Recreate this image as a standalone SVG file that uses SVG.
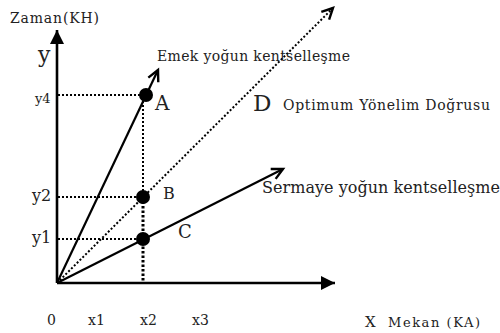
<svg xmlns="http://www.w3.org/2000/svg" width="500" height="333" viewBox="0 0 500 333">
<style>
text{font-family:"DejaVu Serif","Liberation Serif",serif;fill:#222}
.solid{stroke:#000;stroke-width:2.2;fill:none}
.axis{stroke:#000;stroke-width:2.6;fill:none}
.dot{stroke:#000;stroke-width:2;stroke-dasharray:2 2;fill:none}
.dotb{stroke:#000;stroke-width:3;stroke-dasharray:2.5 2;fill:none}
.pt{fill:#000}
</style>
<defs>
<marker id="open" markerWidth="16" markerHeight="16" refX="12" refY="6" orient="auto" markerUnits="userSpaceOnUse" viewBox="0 0 16 12">
<path d="M1,0.5 L12,6 L1,11.5" fill="none" stroke="#000" stroke-width="2.4"/>
</marker>
<marker id="tri" markerWidth="15" markerHeight="15" refX="14" refY="7" orient="auto" markerUnits="userSpaceOnUse" viewBox="0 0 15 14">
<path d="M0,0 L14,7 L0,14 Z" fill="#000"/>
</marker>
</defs>
<g id="connectors">
<line class="axis" x1="57" y1="283" x2="57" y2="30" marker-end="url(#tri)"/>
<line class="axis" x1="57" y1="283" x2="335" y2="283" marker-end="url(#tri)"/>
<line class="solid" x1="57" y1="283" x2="158" y2="70" marker-end="url(#open)"/>
<line class="solid" x1="57" y1="283" x2="283" y2="169" marker-end="url(#open)"/>
<line class="dot" x1="57" y1="283" x2="333" y2="8" marker-end="url(#open)"/>
<line class="dot" x1="58" y1="95" x2="143" y2="95"/>
<line class="dot" x1="58" y1="197" x2="143" y2="197"/>
<line class="dot" x1="58" y1="239" x2="143" y2="239"/>
<line class="dot" x1="143" y1="97" x2="143" y2="197"/>
<line class="dotb" x1="143" y1="197" x2="143" y2="283"/>
</g>
<g id="axis-labels">
<text x="10" y="23" font-size="14" textLength="89">Zaman(KH)</text>
<text x="38" y="62" font-size="22">y</text>
<text x="35" y="103" font-size="13">y4</text>
<text x="32" y="201" font-size="16">y2</text>
<text x="32" y="243" font-size="16">y1</text>
<text x="47" y="325" font-size="14">0</text>
<text x="88" y="325" font-size="14">x1</text>
<text x="140" y="325" font-size="14">x2</text>
<text x="192" y="325" font-size="14">x3</text>
<text x="365" y="327" font-size="15">X</text>
<text x="388" y="327" font-size="13" textLength="92">Mekan (KA)</text>
</g>
<g id="node-A">
<circle class="pt" cx="146" cy="95" r="7"/>
<text x="155" y="110" font-size="20">A</text>
<text x="157" y="61" font-size="14" textLength="193">Emek yoğun kentselleşme</text>
</g>
<g id="node-B">
<circle class="pt" cx="143" cy="197" r="7"/>
<text x="163" y="199" font-size="16">B</text>
</g>
<g id="node-C">
<circle class="pt" cx="143" cy="239" r="7"/>
<text x="178" y="238" font-size="18">C</text>
<text x="262" y="193" font-size="16" textLength="238">Sermaye yoğun kentselleşme</text>
</g>
<g id="node-D">
<text x="253" y="111" font-size="23">D</text>
<text x="283" y="110" font-size="14" textLength="207">Optimum Yönelim Doğrusu</text>
</g>
</svg>
